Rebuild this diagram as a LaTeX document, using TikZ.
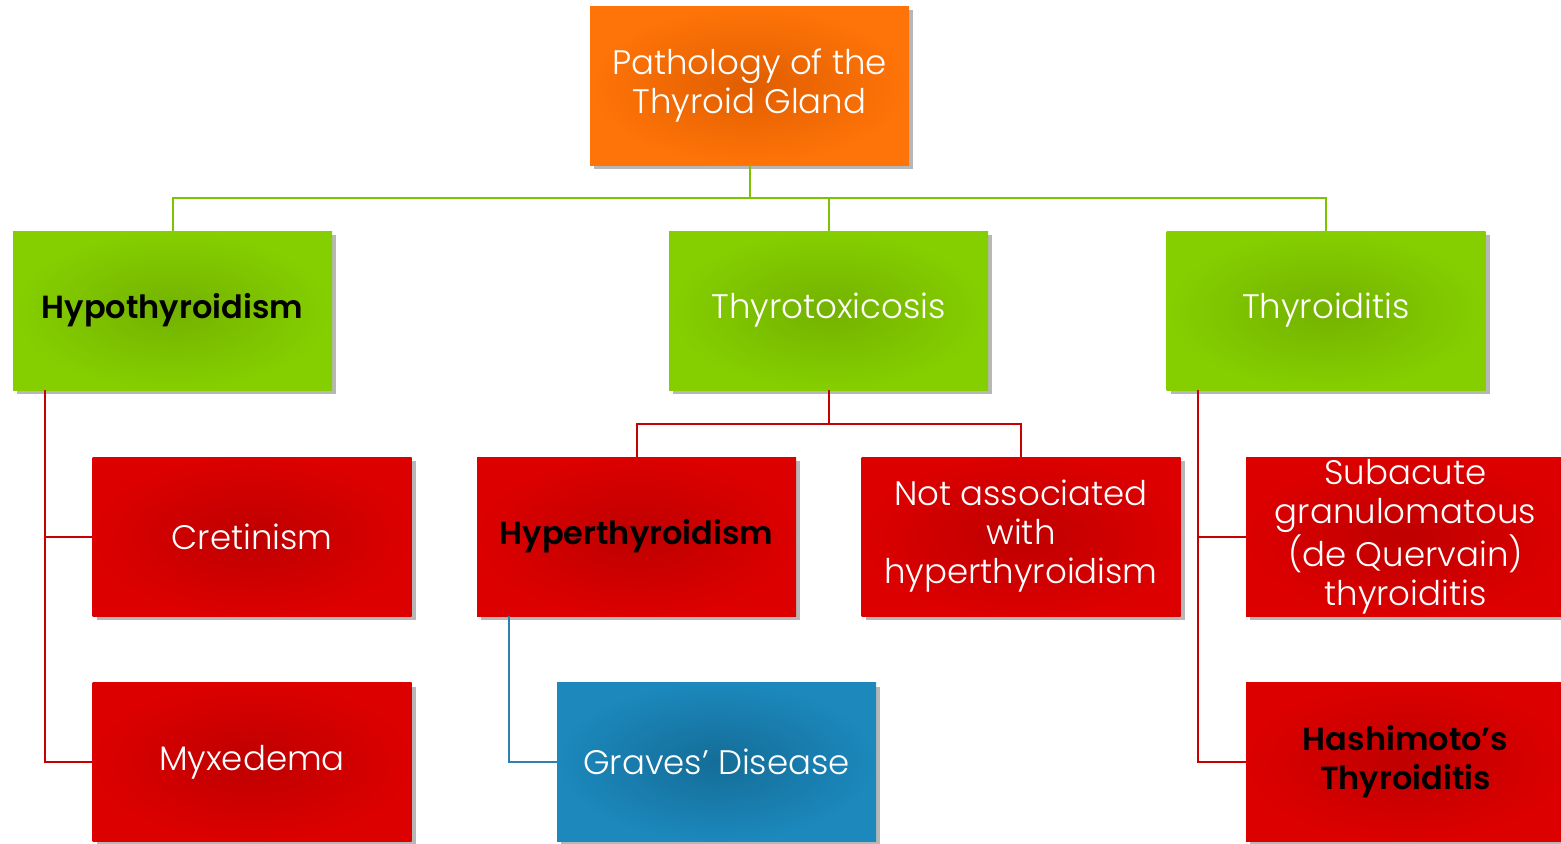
\documentclass[tikz,border=0pt]{standalone}
\usepackage{fontspec}
\setmainfont{Poppins}
\newfontfamily\lightf{Poppins Light}
\usetikzlibrary{shadows}
\definecolor{orin}{HTML}{E05E00}
\definecolor{orout}{HTML}{FF7408}
\definecolor{grin}{HTML}{73B200}
\definecolor{grout}{HTML}{85CF00}
\definecolor{rdin}{HTML}{BE0000}
\definecolor{rdout}{HTML}{DC0000}
\definecolor{blin}{HTML}{146D98}
\definecolor{blout}{HTML}{1C88BC}
\definecolor{gline}{HTML}{7DC400}
\definecolor{rline}{HTML}{C80000}
\definecolor{bline}{HTML}{2E80AE}
\newcommand\boldtxt{\color{black}\bfseries\fontsize{16}{20}\selectfont}
\begin{document}
\begin{tikzpicture}[x=0.5pt,y=-0.5pt,
  box/.style={minimum width=159.5pt,minimum height=79.5pt,inner sep=0pt,
    align=center,text=white,font=\lightf\fontsize{17}{19.5}\selectfont,
    drop shadow={shadow xshift=2pt,shadow yshift=-2pt,fill=black!70,opacity=0.4}},
  orbox/.style={box,shading=radial,inner color=orin,outer color=orout},
  grbox/.style={box,shading=radial,inner color=grin,outer color=grout},
  rdbox/.style={box,shading=radial,inner color=rdin,outer color=rdout},
  blbox/.style={box,shading=radial,inner color=blin,outer color=blout},
  gconn/.style={draw=gline,line width=1pt},
  rconn/.style={draw=rline,line width=1pt},
  bconn/.style={draw=bline,line width=1pt}]
\fill[white] (0,0) rectangle (1561,843);
\clip (0,0) rectangle (1561,843);
\useasboundingbox (0,0) rectangle (1561,843);
\coordinate (gbus) at (749,198);
\coordinate (rbus) at (828,424);
\node[orbox] (top) at (749.5,85.5) {Pathology of the\\Thyroid Gland};
\node[grbox] (hypo) at (172.5,310.5) {\boldtxt Hypothyroidism};
\node[grbox] (tox) at (828.5,310.5) {Thyrotoxicosis};
\node[grbox] (thy) at (1326,310.5) {Thyroiditis};
\node[rdbox] (cret) at (252,536.5) {Cretinism};
\node[rdbox] (hyper) at (636.5,536.5) {\boldtxt Hyperthyroidism};
\node[rdbox] (notass) at (1021,536.5) {Not associated\\with\\hyperthyroidism};
\node[rdbox] (sub) at (1405.5,536.5) {Subacute\\granulomatous\\(de Quervain)\\thyroiditis};
\node[rdbox] (myx) at (252,762) {Myxedema};
\node[blbox] (graves) at (716.5,762) {Graves’ Disease};
\node[rdbox] (hash) at (1405.5,762) {\boldtxt Hashimoto’s\\\boldtxt Thyroiditis};
\coordinate (h1) at ([xshift=16pt]hypo.south west);
\coordinate (h2) at ([xshift=16pt]hyper.south west);
\coordinate (h3) at ([xshift=16pt]thy.south west);
\draw[gconn] (top.south) -- (top.south |- gbus) -| (hypo.north);
\draw[gconn] (top.south |- gbus) -| (tox.north);
\draw[gconn] (top.south |- gbus) -| (thy.north);
\draw[rconn] (tox.south) -- (tox.south |- rbus) -| (hyper.north);
\draw[rconn] (tox.south |- rbus) -| (notass.north);
\draw[rconn] (h1) |- (cret.west);
\draw[rconn] (h1) |- (myx.west);
\draw[bconn] (h2) |- (graves.west);
\draw[rconn] (h3) |- (sub.west);
\draw[rconn] (h3) |- (hash.west);
\end{tikzpicture}
\end{document}
